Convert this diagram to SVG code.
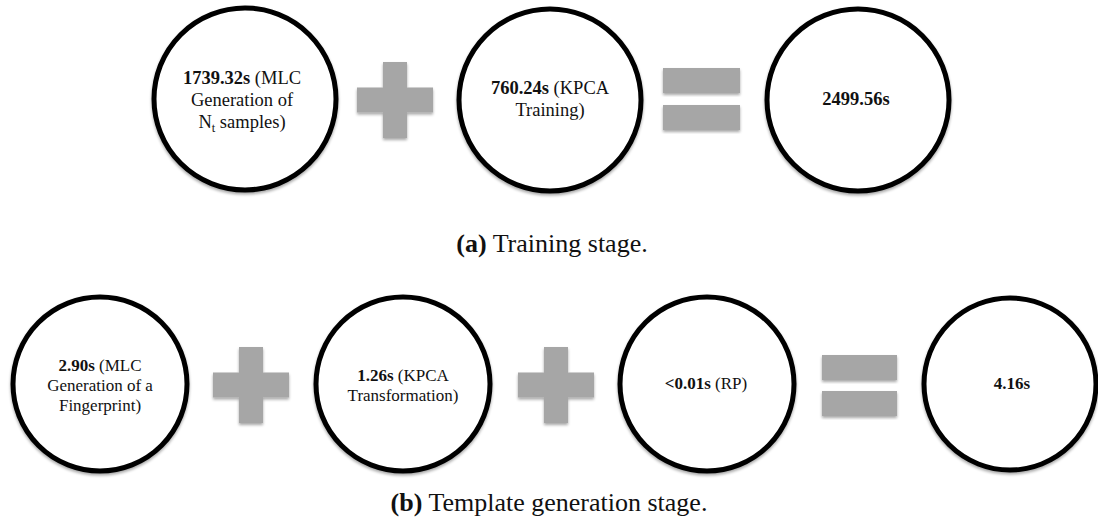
<svg xmlns="http://www.w3.org/2000/svg" width="1098" height="529" viewBox="0 0 1098 529">
  <style>
    .node circle { fill: #ffffff; stroke: #000000; stroke-width: 5; filter: url(#soft); }
    .op use, .op rect { fill: #a6a6a6; filter: url(#soft); }
    text { font-family: "Liberation Serif", "Times New Roman", serif; fill: #111111; text-anchor: middle; }
    .big { font-size: 18.5px; }
    .small { font-size: 17px; }
    .cap { font-size: 26px; }
    .b { font-weight: bold; }
  </style>
  <defs>
    <filter id="soft" x="-10%" y="-10%" width="120%" height="125%">
      <feGaussianBlur in="SourceAlpha" stdDeviation="1.5"/>
      <feOffset dx="0" dy="2" result="sh"/>
      <feComponentTransfer><feFuncA type="linear" slope="0.35"/></feComponentTransfer>
      <feMerge><feMergeNode/><feMergeNode in="SourceGraphic"/></feMerge>
    </filter>
    <!-- plus sign centred on the origin; fill inherited from the <use> -->
    <path id="plus" d="M-12,-38 H12 V-12.5 H38 V12.5 H12 V38 H-12 V12.5 H-38 V-12.5 H-12 Z"/>
  </defs>

  <!-- (a) Training stage -->
  <g id="a-mlc" class="node">
    <circle cx="245" cy="99" r="91"/>
    <text class="big" x="242" y="84"><tspan class="b">1739.32s</tspan> (MLC</text>
    <text class="big" x="242" y="106">Generation of</text>
    <text class="big" x="242" y="128">N<tspan font-size="12.5" dy="4">t</tspan><tspan dy="-4"> samples)</tspan></text>
  </g>
  <g id="a-plus" class="op">
    <use href="#plus" x="395" y="100"/>
  </g>
  <g id="a-kpca" class="node">
    <circle cx="550" cy="100" r="91"/>
    <text class="big" x="550" y="94"><tspan class="b">760.24s</tspan> (KPCA</text>
    <text class="big" x="550" y="116">Training)</text>
  </g>
  <g id="a-equals" class="op">
    <rect x="663" y="68" width="77" height="25"/>
    <rect x="663" y="105" width="77" height="25"/>
  </g>
  <g id="a-total" class="node">
    <circle cx="858" cy="100" r="91"/>
    <text class="big b" x="856" y="105">2499.56s</text>
  </g>
  <text class="cap" x="552" y="252"><tspan class="b">(a)</tspan> Training stage.</text>

  <!-- (b) Template generation stage -->
  <g id="b-mlc" class="node">
    <circle cx="100" cy="384" r="87"/>
    <text class="small" x="100" y="371"><tspan class="b">2.90s</tspan> (MLC</text>
    <text class="small" x="100" y="391">Generation of a</text>
    <text class="small" x="100" y="411">Fingerprint)</text>
  </g>
  <g id="b-plus1" class="op">
    <use href="#plus" x="251" y="385"/>
  </g>
  <g id="b-kpca" class="node">
    <circle cx="403" cy="384" r="87"/>
    <text class="small" x="403" y="381"><tspan class="b">1.26s</tspan> (KPCA</text>
    <text class="small" x="403" y="401">Transformation)</text>
  </g>
  <g id="b-plus2" class="op">
    <use href="#plus" x="556" y="385"/>
  </g>
  <g id="b-rp" class="node">
    <circle cx="707" cy="384" r="87"/>
    <text class="small" x="706" y="389"><tspan class="b">&lt;0.01s</tspan> (RP)</text>
  </g>
  <g id="b-equals" class="op">
    <rect x="822" y="355" width="75" height="25"/>
    <rect x="822" y="391" width="75" height="25"/>
  </g>
  <g id="b-total" class="node">
    <circle cx="1010" cy="384" r="86"/>
    <text class="small b" x="1012" y="389">4.16s</text>
  </g>
  <text class="cap" x="549" y="511"><tspan class="b">(b)</tspan> Template generation stage.</text>

  <g id="connectors"/>
</svg>
